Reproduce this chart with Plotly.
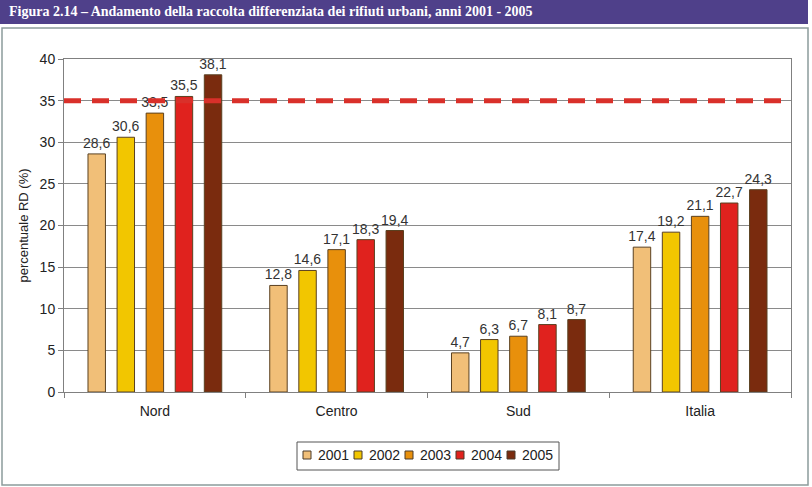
import plotly.graph_objects as go

categories = ["Nord", "Centro", "Sud", "Italia"]
years = ["2001", "2002", "2003", "2004", "2005"]
values = {
    "2001": [28.6, 12.8, 4.7, 17.4],
    "2002": [30.6, 14.6, 6.3, 19.2],
    "2003": [33.5, 17.1, 6.7, 21.1],
    "2004": [35.5, 18.3, 8.1, 22.7],
    "2005": [38.1, 19.4, 8.7, 24.3],
}
colors = ["#F1BF78", "#F2C600", "#E8900C", "#E0221E", "#7A2B0E"]
target = 35
title_text = "Figura 2.14 – Andamento della raccolta differenziata dei rifiuti urbani, anni 2001 - 2005"

W, H = 812, 487
L, R, T, B = 64, 791, 59, 392

def px(x):
    return (x - L) / (R - L)

def py(y):
    return (B - y) / (B - T)

fig = go.Figure()
for yr, c in zip(years, colors):
    fig.add_trace(go.Bar(
        x=categories, y=values[yr], name=yr,
        marker=dict(color=c, line=dict(color="#5a4020", width=1)),
        texttemplate="%{y:.1f}", textposition="outside",
        constraintext="none", cliponaxis=False,
        textfont=dict(family="Liberation Sans, Arial", size=14, color="#333333"),
        showlegend=False,
    ))

shapes = [
    # frame
    dict(type="rect", xref="paper", yref="paper", x0=px(2), x1=px(808), y0=py(28), y1=py(485),
         line=dict(color="#8c9c9c", width=1.5), fillcolor="rgba(0,0,0,0)", layer="below"),
    # banner
    dict(type="rect", xref="paper", yref="paper", x0=px(0), x1=px(808), y0=py(0), y1=py(24),
         line=dict(width=0), fillcolor="#4F408A", layer="below"),
    # target line
    dict(type="line", xref="paper", yref="y", x0=0, x1=1, y0=target, y1=target,
         line=dict(color="#D9302A", width=5, dash="17px,11px"), layer="above"),
    # legend box
    dict(type="rect", xref="paper", yref="paper", x0=px(297), x1=px(559), y0=py(442), y1=py(470),
         line=dict(color="#555555", width=1), fillcolor="white", layer="above"),
]

annotations = [dict(text="<b>" + title_text + "</b>", xref="paper", yref="paper", x=px(7), y=py(12),
                    xanchor="left", yanchor="middle", showarrow=False,
                    font=dict(family="Liberation Serif, Times New Roman", size=14, color="white"))]

# legend entries (custom, compact like the original)
for i, (yr, c) in enumerate(zip(years, colors)):
    x0 = 303 + i * 51
    shapes.append(dict(type="rect", xref="paper", yref="paper", x0=px(x0), x1=px(x0 + 8),
                       y0=py(451), y1=py(459), line=dict(color="#4a3a2a", width=1),
                       fillcolor=c, layer="above"))
    annotations.append(dict(text=yr, xref="paper", yref="paper", x=px(x0 + 13), y=py(455),
                            xanchor="left", yanchor="middle", showarrow=False,
                            font=dict(family="Liberation Sans, Arial", size=14, color="#222222")))

fig.update_layout(
    width=W, height=H,
    margin=dict(l=L, r=W - R, t=T, b=H - B, autoexpand=False),
    paper_bgcolor="white", plot_bgcolor="white",
    barmode="group", bargap=0.2, bargroupgap=0.4,
    separators=",.",
    font=dict(family="Liberation Sans, Arial", size=13, color="#222222"),
    shapes=shapes, annotations=annotations,
    showlegend=False,
)

fig.update_xaxes(showline=True, linecolor="#808080", linewidth=1, mirror=True,
                 ticks="outside", tickson="boundaries", ticklen=5, tickcolor="#808080",
                 ticklabelstandoff=6,
                 tickfont=dict(size=14, color="#222222"))
fig.update_yaxes(range=[0, 40], dtick=5, showline=True, linecolor="#808080", linewidth=1, mirror=True,
                 ticks="outside", ticklen=5, tickcolor="#808080",
                 showgrid=True, gridcolor="#8a8a8a", gridwidth=1, zeroline=False,
                 tickfont=dict(size=14, color="#222222"),
                 title=dict(text="percentuale RD (%)", font=dict(size=13), standoff=8))

fig.write_html("out.html", config={"displayModeBar": False},
               post_script="document.body.style.margin='0';document.body.style.overflow='hidden';")
